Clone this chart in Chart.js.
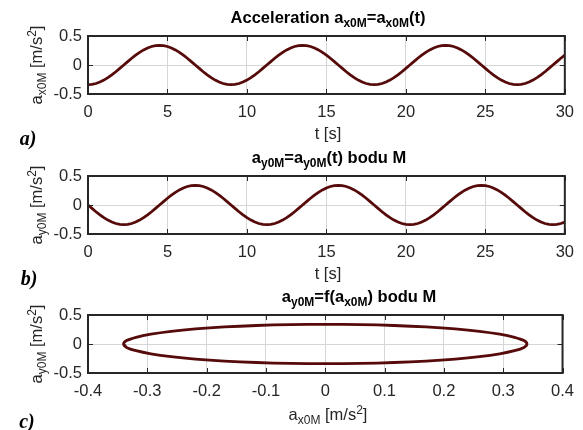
<!DOCTYPE html>
<html>
<head>
<meta charset="utf-8">
<script src="https://cdn.jsdelivr.net/npm/chart.js@4.4.1/dist/chart.umd.min.js"></script>
<style>
  html, body { margin:0; padding:0; background:#fff; }
  #wrap { position:relative; width:583px; height:430px; overflow:hidden; font-family:"Liberation Sans", Arial, sans-serif; color:#262626; }
  canvas { position:absolute; left:0; }
  .lbl { position:absolute; transform:translate(-50%,-50%); white-space:nowrap; line-height:1; font-size:16.5px; }
  .ttl { font-weight:bold; color:#000; font-size:16.5px; }
  .rot { transform:translate(-50%,-50%) rotate(-90deg); }
  .sub { font-size:12px; position:relative; top:4px; }
  .sup { font-size:12px; position:relative; top:-6px; }
  .pl { position:absolute; transform:translate(-50%,-50%); font-family:"Liberation Serif", "Times New Roman", serif; font-style:italic; font-weight:bold; font-size:20px; color:#000; line-height:1; }
</style>
</head>
<body>
<div id="wrap">
  <canvas id="cA" width="583" height="124" style="top:0px"></canvas>
  <canvas id="cB" width="583" height="124" style="top:140px"></canvas>
  <canvas id="cC" width="583" height="124" style="top:279px"></canvas>

  <div class="lbl ttl" style="left:328px;top:17px">Acceleration a<span class="sub">x0M</span>=a<span class="sub">x0M</span>(t)</div>
  <div class="lbl ttl" style="left:329px;top:157px">a<span class="sub">y0M</span>=a<span class="sub">y0M</span>(t) bodu M</div>
  <div class="lbl ttl" style="left:359px;top:296px">a<span class="sub">y0M</span>=f(a<span class="sub">x0M</span>) bodu M</div>

  <div class="lbl rot" style="left:36px;top:65px">a<span class="sub">x0M</span> [m/s<span class="sup">2</span>]</div>
  <div class="lbl rot" style="left:36px;top:205px">a<span class="sub">y0M</span> [m/s<span class="sup">2</span>]</div>
  <div class="lbl rot" style="left:36px;top:344px">a<span class="sub">y0M</span> [m/s<span class="sup">2</span>]</div>

  <div class="lbl" style="left:328px;top:133px">t [s]</div>
  <div class="lbl" style="left:328px;top:273px">t [s]</div>
  <div class="lbl" style="left:328px;top:414px">a<span class="sub">x0M</span> [m/s<span class="sup">2</span>]</div>

  <div class="pl" style="left:28px;top:138px">a)</div>
  <div class="pl" style="left:29px;top:278px">b)</div>
  <div class="pl" style="left:27px;top:421px">c)</div>
</div>
<script>
// time samples [s]
const tValues = [
  0,0.25,0.5,0.75,1,1.25,1.5,1.75,2,2.25,2.5,2.75,
  3,3.25,3.5,3.75,4,4.25,4.5,4.75,5,5.25,5.5,5.75,
  6,6.25,6.5,6.75,7,7.25,7.5,7.75,8,8.25,8.5,8.75,
  9,9.25,9.5,9.75,10,10.25,10.5,10.75,11,11.25,11.5,11.75,
  12,12.25,12.5,12.75,13,13.25,13.5,13.75,14,14.25,14.5,14.75,
  15,15.25,15.5,15.75,16,16.25,16.5,16.75,17,17.25,17.5,17.75,
  18,18.25,18.5,18.75,19,19.25,19.5,19.75,20,20.25,20.5,20.75,
  21,21.25,21.5,21.75,22,22.25,22.5,22.75,23,23.25,23.5,23.75,
  24,24.25,24.5,24.75,25,25.25,25.5,25.75,26,26.25,26.5,26.75,
  27,27.25,27.5,27.75,28,28.25,28.5,28.75,29,29.25,29.5,29.75,
  30
];
// a_x0M [m/s^2]
const ax0M = [
  -0.340,-0.335,-0.319,-0.294,-0.260,-0.219,-0.170,-0.116,-0.059,0,0.059,0.116,
  0.170,0.219,0.260,0.294,0.319,0.335,0.340,0.335,0.319,0.294,0.260,0.219,
  0.170,0.116,0.059,0,-0.059,-0.116,-0.170,-0.219,-0.260,-0.294,-0.319,-0.335,
  -0.340,-0.335,-0.319,-0.294,-0.260,-0.219,-0.170,-0.116,-0.059,0,0.059,0.116,
  0.170,0.219,0.260,0.294,0.319,0.335,0.340,0.335,0.319,0.294,0.260,0.219,
  0.170,0.116,0.059,0,-0.059,-0.116,-0.170,-0.219,-0.260,-0.294,-0.319,-0.335,
  -0.340,-0.335,-0.319,-0.294,-0.260,-0.219,-0.170,-0.116,-0.059,0,0.059,0.116,
  0.170,0.219,0.260,0.294,0.319,0.335,0.340,0.335,0.319,0.294,0.260,0.219,
  0.170,0.116,0.059,0,-0.059,-0.116,-0.170,-0.219,-0.260,-0.294,-0.319,-0.335,
  -0.340,-0.335,-0.319,-0.294,-0.260,-0.219,-0.170,-0.116,-0.059,0,0.059,0.116,
  0.170
];
// a_y0M [m/s^2]
const ay0M = [
  0,-0.059,-0.116,-0.170,-0.219,-0.260,-0.294,-0.319,-0.335,-0.340,-0.335,-0.319,
  -0.294,-0.260,-0.219,-0.170,-0.116,-0.059,0,0.059,0.116,0.170,0.219,0.260,
  0.294,0.319,0.335,0.340,0.335,0.319,0.294,0.260,0.219,0.170,0.116,0.059,
  0,-0.059,-0.116,-0.170,-0.219,-0.260,-0.294,-0.319,-0.335,-0.340,-0.335,-0.319,
  -0.294,-0.260,-0.219,-0.170,-0.116,-0.059,0,0.059,0.116,0.170,0.219,0.260,
  0.294,0.319,0.335,0.340,0.335,0.319,0.294,0.260,0.219,0.170,0.116,0.059,
  0,-0.059,-0.116,-0.170,-0.219,-0.260,-0.294,-0.319,-0.335,-0.340,-0.335,-0.319,
  -0.294,-0.260,-0.219,-0.170,-0.116,-0.059,0,0.059,0.116,0.170,0.219,0.260,
  0.294,0.319,0.335,0.340,0.335,0.319,0.294,0.260,0.219,0.170,0.116,0.059,
  0,-0.059,-0.116,-0.170,-0.219,-0.260,-0.294,-0.319,-0.335,-0.340,-0.335,-0.319,
  -0.294
];
// tick labels
const tTickLabels  = ['0','5','10','15','20','25','30'];
const axTickLabels = ['-0.4','-0.3','-0.2','-0.1','0','0.1','0.2','0.3','0.4'];
const yTickLabels  = ['-0.5','0','0.5'];

const LINE_COLOR = '#560a0a';
const FONT = { family: '"Liberation Sans", Arial, sans-serif', size: 16.5 };

const boxPlugin = {
  id: 'matlabBox',
  afterDraw(chart) {
    const { ctx, chartArea: a, scales: { x, y } } = chart;
    ctx.save();
    ctx.strokeStyle = '#262626';
    ctx.lineWidth = 1;
    ctx.beginPath();
    x.ticks.forEach(t => {
      const px = Math.round(x.getPixelForValue(t.value)) + 0.5;
      ctx.moveTo(px, a.bottom); ctx.lineTo(px, a.bottom - 5);
      ctx.moveTo(px, a.top); ctx.lineTo(px, a.top + 5);
    });
    y.ticks.forEach(t => {
      const py = Math.round(y.getPixelForValue(t.value)) + 0.5;
      ctx.moveTo(a.left, py); ctx.lineTo(a.left + 5, py);
      ctx.moveTo(a.right, py); ctx.lineTo(a.right - 5, py);
    });
    ctx.stroke();
    ctx.lineWidth = 2;
    ctx.strokeRect(a.left, a.top, a.right - a.left, a.bottom - a.top);
    ctx.restore();
  }
};

function makeChart(id, points, xMin, xMax, xStep, xLabels, tension) {
  return new Chart(document.getElementById(id), {
    type: 'scatter',
    data: { datasets: [{
      data: points,
      showLine: true,
      borderColor: LINE_COLOR,
      backgroundColor: LINE_COLOR,
      borderWidth: 2.8,
      pointRadius: 0,
      tension: tension,
      fill: false
    }]},
    options: {
      responsive: false,
      devicePixelRatio: 1,
      animation: false,
      layout: { padding: { top: 36, right: 16, left: 0, bottom: 0 } },
      plugins: { legend: { display: false }, tooltip: { enabled: false }, title: { display: false } },
      scales: {
        x: {
          type: 'linear', min: xMin, max: xMax,
          ticks: { stepSize: xStep, autoSkip: false, maxRotation: 0, padding: 9, color: '#262626', font: FONT,
                   callback: (v, i) => xLabels[i] },
          grid: { color: '#d6d6d6', lineWidth: 1, drawTicks: false },
          border: { display: false },
          afterFit: s => { s.height = 30; }
        },
        y: {
          type: 'linear', min: -0.5, max: 0.5,
          ticks: { stepSize: 0.5, autoSkip: false, padding: 6, color: '#262626', font: FONT,
                   callback: (v, i) => yTickLabels[i] },
          grid: { color: '#d6d6d6', lineWidth: 1, drawTicks: false },
          border: { display: false },
          afterFit: s => { s.width = 88; }
        }
      }
    },
    plugins: [boxPlugin]
  });
}

makeChart('cA', tValues.map((t, i) => ({ x: t, y: ax0M[i] })), 0, 30, 5, tTickLabels, 0);
makeChart('cB', tValues.map((t, i) => ({ x: t, y: ay0M[i] })), 0, 30, 5, tTickLabels, 0);
makeChart('cC', ax0M.map((v, i) => ({ x: v, y: ay0M[i] })), -0.4, 0.4, 0.1, axTickLabels, 0.3);
</script>
</body>
</html>
